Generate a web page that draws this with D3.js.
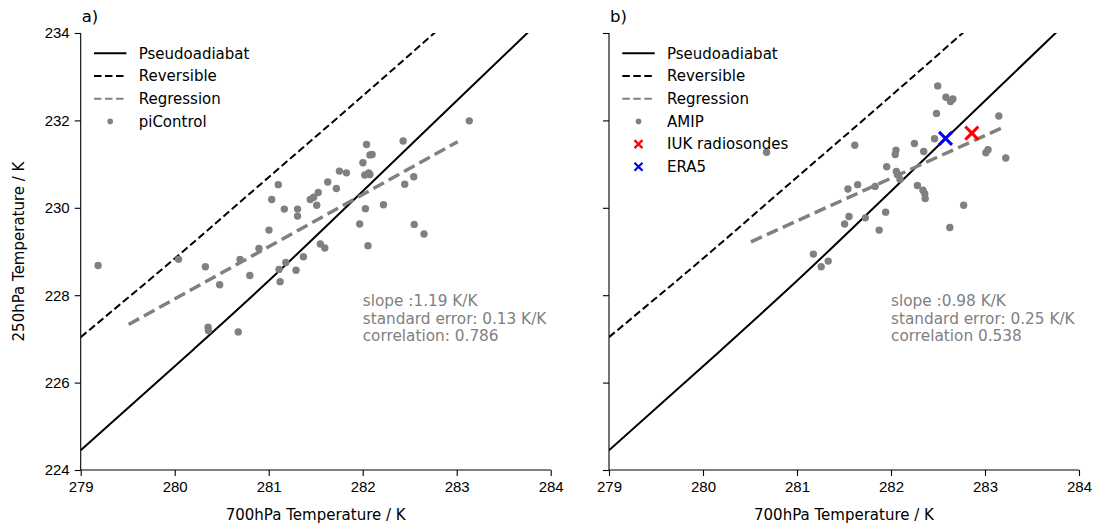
<!DOCTYPE html>
<html>
<head>
<meta charset="utf-8">
<title>250hPa vs 700hPa temperature</title>
<script src="https://cdn.jsdelivr.net/npm/d3@7"></script>
<style>
  body { margin: 0; background: #fff; }
  svg { font-family: "DejaVu Sans", sans-serif; }
  .tick text { font-size: 15px; fill: #000; }
  .tick line, .domain { stroke: #000; stroke-width: 1.1; }
</style>
</head>
<body>
<div id="chart"></div>
<script>
// axis ticks
var xTicks = [279, 280, 281, 282, 283, 284];
var yTicks = [224, 226, 228, 230, 232, 234];

// theoretical curves (700hPa T, 250hPa T)
var pseudoT700 = [279, 280.2, 281.0, 282.0, 283.0, 283.8];
var pseudoT250 = [224.45, 226.76, 228.33, 230.38, 232.45, 234.1];
var revT700 = [279, 280, 281, 282, 283];
var revT250 = [227.04, 228.84, 230.70, 232.56, 234.45];

// panel a) piControl
var piT700 = [279.185, 280.041, 280.326, 280.478, 280.695, 280.799, 280.896, 281.003, 281.032, 281.102,
  281.166, 281.110, 281.121, 281.182, 280.355, 280.358, 280.676, 281.291, 281.369, 281.549,
  281.597, 281.307, 281.307, 281.442, 281.478, 281.527, 281.511, 281.628, 281.720, 281.752,
  281.827, 282.002, 282.041, 282.077, 282.100, 282.022, 282.064, 282.077, 282.029, 282.221,
  281.968, 282.056, 282.430, 282.447, 282.543, 282.548, 282.652, 283.134];
var piT250 = [228.68, 228.82, 228.65, 228.24, 228.82, 228.45, 229.07, 229.49, 230.19, 230.53,
  229.97, 228.59, 228.31, 228.75, 227.27, 227.19, 227.16, 228.57, 228.88, 229.17,
  229.08, 229.97, 229.81, 230.19, 230.24, 230.35, 230.06, 230.59, 230.44, 230.84,
  230.80, 231.03, 231.45, 231.21, 231.22, 230.75, 230.80, 230.76, 229.98, 230.07,
  229.63, 229.13, 231.53, 230.54, 230.71, 229.62, 229.40, 231.99];
var piRegT700 = [279.51, 283.01];
var piRegT250 = [227.33, 231.51];
var piStats = ["slope :1.19 K/K", "standard error: 0.13 K/K", "correlation: 0.786"];

// panel b) AMIP
var amipT700 = [280.676, 281.615, 281.954, 281.542, 281.645, 281.831, 281.553, 281.506, 281.727, 281.943,
  281.874, 281.174, 281.257, 281.332, 282.497, 282.585, 282.658, 282.633, 282.484, 283.147,
  282.463, 282.249, 282.348, 282.053, 282.045, 282.057, 282.080, 282.096, 282.281, 282.340,
  282.359, 282.364, 283.032, 283.009, 283.221, 282.773, 282.626];
var amipT250 = [231.27, 231.43, 230.94, 230.43, 230.53, 230.49, 229.80, 229.63, 229.77, 229.90,
  229.49, 228.94, 228.65, 228.78, 232.79, 232.53, 232.49, 232.43, 232.16, 232.10,
  231.58, 231.47, 231.29, 231.32, 231.22, 230.83, 230.75, 230.65, 230.51, 230.40,
  230.32, 230.21, 231.33, 231.26, 231.14, 230.06, 229.55];
var amipRegT700 = [280.51, 283.18];
var amipRegT250 = [229.22, 231.83];
var amipStats = ["slope :0.98 K/K", "standard error: 0.25 K/K", "correlation 0.538"];

// observations
var iukObs = [282.86, 231.71];
var era5Obs = [282.58, 231.59];

var W = 1096, H = 528;
var plotW = 470, plotH = 437, marginTop = 33;
var panelLeft = [80.7, 609];
var grey = "#808080";

var svg = d3.select("#chart").append("svg")
  .attr("width", W)
  .attr("height", H);

function pairs(xs, ys) {
  return xs.map(function (v, i) { return [v, ys[i]]; });
}

function crossPath(s) {
  return "M" + (-s) + "," + (-s) + "L" + s + "," + s + "M" + (-s) + "," + s + "L" + s + "," + (-s);
}

function drawPanel(idx, opts) {
  var g = svg.append("g")
    .attr("transform", "translate(" + panelLeft[idx] + "," + marginTop + ")");

  var x = d3.scaleLinear().domain([279, 284]).range([0, plotW]);
  var y = d3.scaleLinear().domain([224, 234]).range([plotH, 0]);

  g.append("clipPath").attr("id", "clip" + idx)
    .append("rect").attr("width", plotW).attr("height", plotH);

  var line = d3.line().x(function (d) { return x(d[0]); }).y(function (d) { return y(d[1]); });
  var curve = d3.line().curve(d3.curveMonotoneX)
    .x(function (d) { return x(d[0]); }).y(function (d) { return y(d[1]); });

  var plot = g.append("g").attr("clip-path", "url(#clip" + idx + ")");

  plot.append("path").datum(pairs(pseudoT700, pseudoT250))
    .attr("d", curve).attr("fill", "none")
    .attr("stroke", "#000").attr("stroke-width", 2);
  plot.append("path").datum(pairs(revT700, revT250))
    .attr("d", curve).attr("fill", "none")
    .attr("stroke", "#000").attr("stroke-width", 2)
    .attr("stroke-dasharray", "7.5,3.5");
  plot.append("path").datum(pairs(opts.regX, opts.regY))
    .attr("d", line).attr("fill", "none")
    .attr("stroke", grey).attr("stroke-width", 3.5)
    .attr("stroke-dasharray", "12,5.5");

  plot.selectAll(".pt").data(pairs(opts.ptsX, opts.ptsY))
    .enter().append("circle")
    .attr("class", "pt")
    .attr("cx", function (d) { return x(d[0]); })
    .attr("cy", function (d) { return y(d[1]); })
    .attr("r", 3.7)
    .attr("fill", grey);

  if (opts.obs) {
    opts.obs.forEach(function (o) {
      plot.append("path")
        .attr("d", crossPath(6.5))
        .attr("transform", "translate(" + x(o.v[0]) + "," + y(o.v[1]) + ")")
        .attr("stroke", o.color).attr("stroke-width", 3).attr("fill", "none");
    });
  }

  // axes: left and bottom spines only
  var xAxis = d3.axisBottom(x).tickValues(xTicks).tickSize(6).tickPadding(5)
    .tickFormat(d3.format("d"));
  var yAxis = d3.axisLeft(y).tickValues(yTicks).tickSize(6).tickPadding(5)
    .tickFormat(opts.yLabels ? d3.format("d") : "");
  g.append("g").attr("transform", "translate(0," + plotH + ")").call(xAxis)
    .call(function (a) { a.select(".domain").attr("d", "M0,0H" + plotW); });
  g.append("g").call(yAxis)
    .call(function (a) { a.select(".domain").attr("d", "M0,0V" + plotH); });

  g.append("text")
    .attr("x", plotW / 2).attr("y", plotH + 50)
    .attr("text-anchor", "middle").attr("font-size", 15)
    .text("700hPa Temperature / K");

  g.append("text")
    .attr("x", 1).attr("y", -11)
    .attr("font-size", 16.5)
    .text(opts.title);

  // stats text
  opts.stats.forEach(function (s, i) {
    g.append("text")
      .attr("x", x(282)).attr("y", y(227.75) + i * 17.4)
      .attr("font-size", 15.3).attr("fill", grey)
      .text(s);
  });

  // legend
  var leg = g.append("g").attr("transform", "translate(0,20.3)");
  opts.legend.forEach(function (item, i) {
    var row = leg.append("g").attr("transform", "translate(0," + (i * 22.7) + ")");
    if (item.type === "line") {
      row.append("line").attr("x1", 13.3).attr("x2", 45.7)
        .attr("stroke", item.color).attr("stroke-width", 2)
        .attr("stroke-dasharray", item.dash || null);
    } else if (item.type === "dot") {
      row.append("circle").attr("cx", 29.5).attr("r", 2.8).attr("fill", item.color);
    } else {
      row.append("path").attr("d", crossPath(4))
        .attr("transform", "translate(29.5,0)")
        .attr("stroke", item.color).attr("stroke-width", 2.2).attr("fill", "none");
    }
    row.append("text").attr("x", 58).attr("y", 5.3)
      .attr("font-size", 15).text(item.label);
  });
}

drawPanel(0, {
  title: "a)",
  ptsX: piT700, ptsY: piT250,
  regX: piRegT700, regY: piRegT250,
  stats: piStats,
  yLabels: true,
  legend: [
    { type: "line", color: "#000", label: "Pseudoadiabat" },
    { type: "line", color: "#000", dash: "7.5,3.5", label: "Reversible" },
    { type: "line", color: grey, dash: "7.5,3.5", label: "Regression" },
    { type: "dot", color: grey, label: "piControl" }
  ]
});

drawPanel(1, {
  title: "b)",
  ptsX: amipT700, ptsY: amipT250,
  regX: amipRegT700, regY: amipRegT250,
  stats: amipStats,
  yLabels: false,
  obs: [{ v: iukObs, color: "#ff0000" }, { v: era5Obs, color: "#0000ff" }],
  legend: [
    { type: "line", color: "#000", label: "Pseudoadiabat" },
    { type: "line", color: "#000", dash: "7.5,3.5", label: "Reversible" },
    { type: "line", color: grey, dash: "7.5,3.5", label: "Regression" },
    { type: "dot", color: grey, label: "AMIP" },
    { type: "cross", color: "#ff0000", label: "IUK radiosondes" },
    { type: "cross", color: "#0000ff", label: "ERA5" }
  ]
});

svg.append("text")
  .attr("transform", "translate(24," + (marginTop + plotH / 2) + ") rotate(-90)")
  .attr("text-anchor", "middle").attr("font-size", 15)
  .text("250hPa Temperature / K");
</script>
</body>
</html>
